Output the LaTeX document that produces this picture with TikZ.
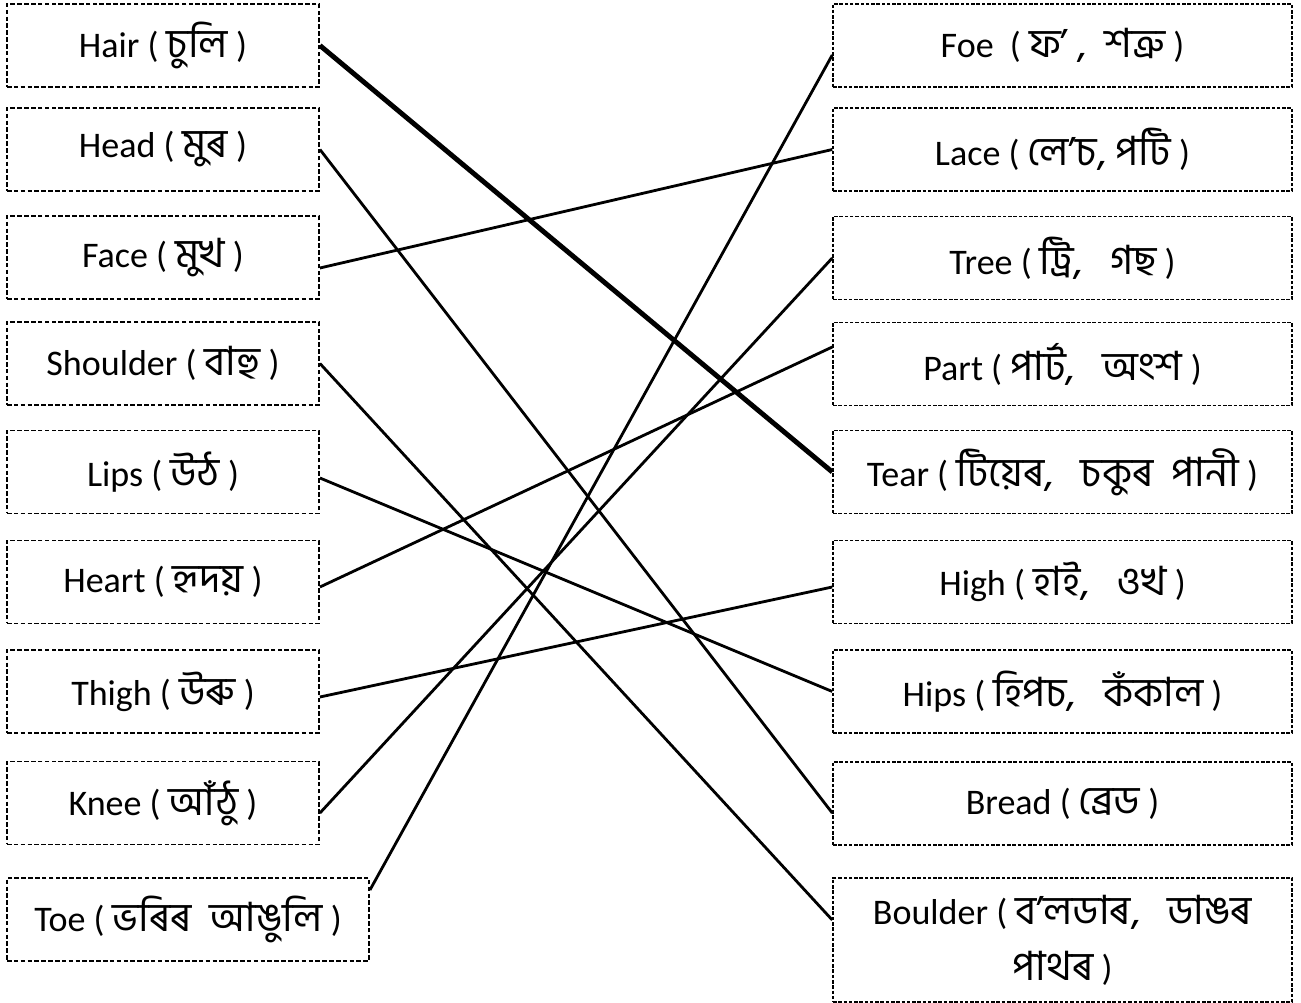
\documentclass[tikz,border=0pt]{standalone}
\usepackage{fontspec}
\setmainfont{Carlito}
\newfontfamily\bnfont[Script=Bengali, Scale=1.12]{Hind Siliguri}
\newcommand{\bn}[1]{{\bnfont #1}}
\usepackage{tikz}
\usetikzlibrary{positioning, calc}

\begin{document}
\begin{tikzpicture}[x=0.02cm, y=-0.02cm, font=\fontsize{20.5}{32}\selectfont,
    lbox/.style={rectangle, draw, line width=1.1pt, dash pattern=on 2.6pt off 1.3pt, minimum width=6.24cm, minimum height=1.66cm, inner sep=0pt},
    rbox/.style={rectangle, draw, line width=0.9pt, dash pattern=on 2pt off 1pt, minimum width=9.18cm, minimum height=1.66cm, inner sep=0pt},
    link/.style={line width=1.6pt}
]
\useasboundingbox (0,0) rectangle (1301,1003);

% English words (left)
\node[lbox] (hair) at (163, 45.5) {Hair ( \bn{চুলি} )};
\node[lbox] (head) at (163, 149.5) {Head ( \bn{মুৰ} )};
\node[lbox] (face) at (163, 257.5) {Face ( \bn{মুখ} )};
\node[lbox] (shoulder) at (163, 363.5) {Shoulder ( \bn{বাহু} )};
\node[lbox] (lips) at (163, 472) {Lips ( \bn{উঠ} )};
\node[lbox] (heart) at (163, 582) {Heart ( \bn{হৃদয়} )};
\node[lbox] (thigh) at (163, 691.5) {Thigh ( \bn{উৰু} )};
\node[lbox] (knee) at (163, 803) {Knee ( \bn{আঁঠু} )};
\node[lbox, minimum width=7.24cm] (toe) at (188, 919.5) {Toe ( \bn{ভৰিৰ\ \ আঙুলি} )};

% rhyming words (right)
\node[rbox] (foe) at (1062.5, 45.5) {Foe \ ( \bn{ফ’ ,\ \ শত্রু} )};
\node[rbox] (lace) at (1062.5, 149.5) {Lace ( \bn{লে’চ, পটি} )};
\node[rbox] (tree) at (1062.5, 258) {Tree ( \bn{ট্রি,\ \ \ গছ} )};
\node[rbox] (part) at (1062.5, 364) {Part ( \bn{পার্ট,\ \ \ অংশ} )};
\node[rbox] (tear) at (1062.5, 472) {Tear ( \bn{টিয়েৰ,\ \ \ চকুৰ\ \ পানী} )};
\node[rbox] (high) at (1062.5, 582) {High ( \bn{হাই,\ \ \ ওখ} )};
\node[rbox] (hips) at (1062.5, 691.5) {Hips ( \bn{হিপচ,\ \ \ কঁকাল} )};
\node[rbox] (bread) at (1062.5, 803.5) {Bread ( \bn{ব্রেড} )};
\node[rbox, minimum height=2.48cm, align=center] (boulder) at (1062.5, 940) {Boulder ( \bn{ব’লডাৰ,\ \ \ ডাঙৰ}\\ \bn{পাথৰ} )};

% matching lines
\draw[link, line width=2.8pt] (hair.east) -- (tear.west);
\draw[link] (head.east) -- ([yshift=-0.19cm]bread.west);
\draw[link] ([yshift=-0.21cm]face.east) -- (lace.west);
\draw[link] (shoulder.east) -- ([yshift=0.4cm]boulder.west);
\draw[link] ([yshift=-0.12cm]lips.east) -- (hips.west);
\draw[link] ([yshift=-0.1cm]heart.east) -- ([yshift=0.34cm]part.west);
\draw[link] ([yshift=-0.11cm]thigh.east) -- ([yshift=-0.1cm]high.west);
\draw[link] ([yshift=-0.2cm]knee.east) -- (tree.west);
\draw[link] ([yshift=0.59cm]toe.east) -- ([yshift=-0.19cm]foe.west);

\end{tikzpicture}
\end{document}
